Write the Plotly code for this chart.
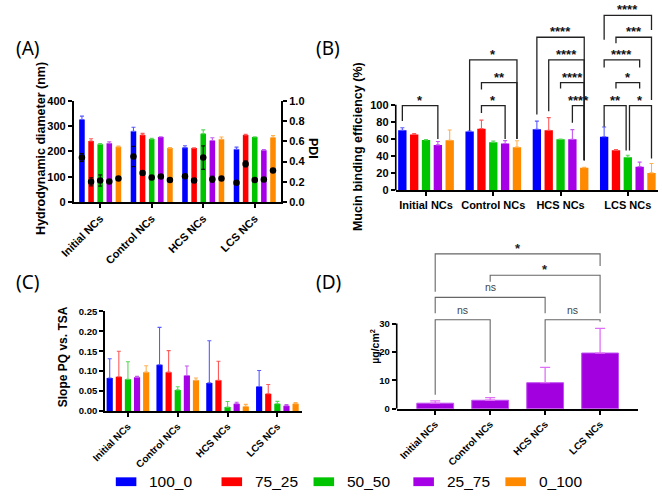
import plotly.graph_objects as go

W, H = 662, 497

groups = ["Initial NCs", "Control NCs", "HCS NCs", "LCS NCs"]
series = ["100_0", "75_25", "50_50", "25_75", "0_100"]
colors = ["#0000ff", "#ff0000", "#00c400", "#a500e6", "#ff8a00"]
err_colors = ["#5a5aff", "#ff5a5a", "#5ad85a", "#c45af0", "#ffb050"]

# (A) Hydrodynamic diameter (nm) and PDI
diam = {
    "100_0": [326, 279, 215, 208],
    "75_25": [241, 265, 213, 265],
    "50_50": [228, 249, 270, 257],
    "25_75": [232, 257, 243, 205],
    "0_100": [218, 213, 248, 255],
}
diam_err = {
    "100_0": [13, 16, 7, 9],
    "75_25": [9, 6, 1, 2],
    "50_50": [3, 3, 15, 1],
    "25_75": [6, 1, 11, 2],
    "0_100": [3, 2, 9, 7],
}
pdi = {
    "100_0": [0.44, 0.45, 0.255, 0.19],
    "75_25": [0.20, 0.287, 0.213, 0.377],
    "50_50": [0.213, 0.242, 0.439, 0.219],
    "25_75": [0.203, 0.252, 0.226, 0.223],
    "0_100": [0.232, 0.219, 0.232, 0.313],
}
pdi_err = {
    "100_0": [0.04, 0.10, 0.01, 0.005],
    "75_25": [0.04, 0.02, 0.02, 0.03],
    "50_50": [0.055, 0.02, 0.115, 0.015],
    "25_75": [0.005, 0.02, 0.03, 0.01],
    "0_100": [0.01, 0.01, 0.015, 0.01],
}

# (B) Mucin binding efficiency (%)
mucin = {
    "100_0": [70.3, 68.8, 71.5, 62.7],
    "75_25": [65.4, 72.2, 70.3, 47.1],
    "50_50": [59.0, 56.3, 59.7, 38.8],
    "25_75": [53.2, 54.8, 59.7, 27.8],
    "0_100": [58.6, 50.6, 26.6, 20.5],
}
mucin_err = {
    "100_0": [3, 0.5, 9.5, 11.4],
    "75_25": [1, 10, 14.8, 0.8],
    "50_50": [0.5, 1.5, 0.3, 2.3],
    "25_75": [4, 3.4, 11.4, 5.3],
    "0_100": [12, 7.5, 0.5, 11],
}
# group, bar i, bar j, bracket level, left leg end, right leg end, label
mucin_sig = [
    (0, 0, 3, 99.2, 81, 60, "*"),
    (1, 0, 4, 152.5, 69.6, 60, "*"),
    (1, 1, 4, 125.9, 117.9, 60, "**"),
    (1, 1, 3, 99.2, 90.5, 60, "*"),
    (2, 0, 4, 179, 88.6, 35.4, "****"),
    (2, 1, 4, 152.5, 92.4, 35.4, "****"),
    (2, 2, 4, 125.9, 119, 35.4, "****"),
    (2, 3, 4, 99.2, 79, 35.4, "****"),
    (3, 0, 4, 204.6, 176, 187.5, "****"),
    (3, 1, 4, 179, 172, 105.7, "***"),
    (3, 0, 3, 152.5, 143.7, 143.7, "****"),
    (3, 1, 3, 125.9, 119, 119, "*"),
    (3, 0, 2, 99.2, 74.5, 46.8, "**"),
    (3, 2, 4, 99.2, 46.8, 37.3, "*"),
]

# (C) Slope PQ vs. TSA
slope = {
    "100_0": [0.083, 0.116, 0.0705, 0.0615],
    "75_25": [0.086, 0.0975, 0.077, 0.0434],
    "50_50": [0.0795, 0.053, 0.0098, 0.018],
    "25_75": [0.0844, 0.089, 0.018, 0.013],
    "0_100": [0.0975, 0.077, 0.0115, 0.018],
}
slope_err = {
    "100_0": [0.048, 0.094, 0.106, 0.040],
    "75_25": [0.064, 0.054, 0.048, 0.023],
    "50_50": [0.044, 0.008, 0.014, 0.006],
    "25_75": [0.003, 0.024, 0.004, 0.003],
    "0_100": [0.016, 0.006, 0.005, 0.003],
}

# (D) deposited amount (ug/cm2)
deposit = [1.95, 2.98, 9.16, 19.6]
deposit_err = [0.8, 0.92, 5.4, 8.7]
deposit_sig = [
    (0, 1, 31.3, 4.9, 5.5, "ns"),
    (2, 3, 31.3, 16.4, 30.6, "ns"),
    (0, 2, 39.2, 33.6, 33.6, "ns"),
    (1, 3, 47.0, 44.7, 33.6, "*"),
    (0, 3, 54.5, 41.2, 50.2, "*"),
]

FONT = "Liberation Sans"


def px(x):
    return x / W


def py(y):
    return 1 - y / H


fig = go.Figure()


def add_group_bars(values, errs, xa, ya, step, width):
    for i, s in enumerate(series):
        xs = [g + (i - 2) * step for g in range(len(groups))]
        fig.add_trace(go.Bar(
            x=xs, y=values[s], width=width, xaxis=xa, yaxis=ya,
            marker=dict(color=colors[i], line=dict(width=0)),
            error_y=dict(type="data", symmetric=False, array=errs[s],
                         arrayminus=[0] * len(groups), color=err_colors[i],
                         thickness=1.1, width=2),
            showlegend=False, name=s,
        ))


STEP_A, STEP_B, STEP_C = 0.177, 0.176, 0.183
add_group_bars(diam, diam_err, "x", "y", STEP_A, 0.108)
for i, s in enumerate(series):
    xs = [g + (i - 2) * STEP_A for g in range(len(groups))]
    fig.add_trace(go.Scatter(
        x=xs, y=pdi[s], xaxis="x", yaxis="y5", mode="markers",
        marker=dict(color="black", size=6.5),
        error_y=dict(type="data", array=pdi_err[s], color="black",
                     thickness=1, width=2),
        showlegend=False, name=s + " PDI",
    ))
add_group_bars(mucin, mucin_err, "x2", "y2", STEP_B, 0.124)
add_group_bars(slope, slope_err, "x3", "y3", STEP_C, 0.124)
fig.add_trace(go.Bar(
    x=list(range(len(groups))), y=deposit, width=0.67, xaxis="x4", yaxis="y4",
    marker=dict(color="#a300e0", line=dict(color="#c050f0", width=1)),
    error_y=dict(type="data", symmetric=False, array=deposit_err,
                 arrayminus=[0] * 4, color="#e070f5", thickness=1.3, width=5),
    showlegend=False, name="deposit",
))

shapes = []
annotations = []

# B brackets
B_LEVEL_SHARED = {}
for b in mucin_sig:
    B_LEVEL_SHARED.setdefault((b[0], b[3]), []).append(b)
for (g, i, j, lev, yl, yr, lab) in mucin_sig:
    x1 = g + (i - 2) * STEP_B
    x2 = g + (j - 2) * STEP_B
    for other in B_LEVEL_SHARED[(g, lev)]:
        if other[1] == j and other[2] != j:
            x2 -= 0.025
        if other[2] == i and other[1] != i:
            x1 += 0.025
    shapes.append(dict(type="path", xref="x2", yref="y2",
                       path=f"M {x1},{yl} L {x1},{lev} L {x2},{lev} L {x2},{yr}",
                       line=dict(color="#222222", width=1.3)))
    annotations.append(dict(x=(x1 + x2) / 2, y=lev, xref="x2", yref="y2",
                            text=lab, showarrow=False, yanchor="bottom", yshift=-4,
                            font=dict(family=FONT, size=13, color="#111", weight="bold")))

# D brackets
for (i, j, lev, yl, yr, lab) in deposit_sig:
    shapes.append(dict(type="path", xref="x4", yref="y4",
                       path=f"M {i},{yl} L {i},{lev} L {j},{lev} L {j},{yr}",
                       line=dict(color="#666666", width=1.1)))
    if lab == "ns":
        annotations.append(dict(x=(i + j) / 2, y=lev, xref="x4", yref="y4",
                                text=lab, showarrow=False, yanchor="bottom", yshift=2,
                                font=dict(family=FONT, size=10.5, color="#444")))
    else:
        annotations.append(dict(x=(i + j) / 2, y=lev, xref="x4", yref="y4",
                                text=lab, showarrow=False, yanchor="bottom", yshift=-4,
                                font=dict(family=FONT, size=13, color="#222", weight="bold")))

# partial y axis lines for B and D
shapes.append(dict(type="line", xref="x2 domain", yref="y2", x0=0, x1=0, y0=0, y1=100,
                   line=dict(color="black", width=1.6)))
shapes.append(dict(type="line", xref="x4 domain", yref="y4", x0=0, x1=0, y0=0, y1=30,
                   line=dict(color="black", width=1.6)))


def title(text, x, y, size, angle=-90):
    annotations.append(dict(x=px(x), y=py(y), xref="paper", yref="paper", text=text,
                            textangle=angle, showarrow=False, xanchor="center",
                            yanchor="middle",
                            font=dict(family=FONT, size=size, color="black", weight="bold")))


title("Hydrodynamic diameter (nm)", 28, 146, 12.5)
title("PDI", 305, 146, 12.5, angle=90)
title("Mucin binding efficiency (%)", 351, 144, 12.5)
title("Slope PQ vs. TSA", 50, 359, 12)
title("µg/cm<sup>2</sup>", 368, 349, 10.5)

# panel letters
for lab, x, y in [("(A)", 0, 43), ("(B)", 306, 43), ("(C)", 0, 283), ("(D)", 306, 283)]:
    annotations.append(dict(x=px(x), y=py(y), xref="paper", yref="paper", text=lab,
                            showarrow=False, xanchor="left", yanchor="middle",
                            font=dict(family="Noto Sans", size=19, color="black")))

# legend
leg_x = [104, 212, 306, 408, 502]
for i, s in enumerate(series):
    shapes.append(dict(type="rect", xref="paper", yref="paper",
                       x0=px(leg_x[i]), x1=px(leg_x[i] + 21), y0=py(492), y1=py(483),
                       fillcolor=colors[i], line=dict(width=0)))
    annotations.append(dict(x=px(leg_x[i] + 32), y=py(487.5), xref="paper", yref="paper",
                            text=s, showarrow=False, xanchor="left", yanchor="middle",
                            font=dict(family=FONT, size=15.5, color="black")))

tick_bold = lambda sz: dict(family=FONT, size=sz, color="black", weight="bold")
axis_common = dict(showgrid=False, zeroline=False, ticks="outside", ticklen=4,
                   tickwidth=1.5, tickcolor="black", linecolor="black", linewidth=1.6)

fig.update_layout(
    width=W, height=H, margin=dict(l=0, r=0, t=0, b=0),
    paper_bgcolor="white", plot_bgcolor="rgba(0,0,0,0)",
    barmode="overlay", showlegend=False,
    xaxis=dict(domain=[px(61), px(273)], range=[-0.514, 3.514], anchor="y",
               tickvals=list(range(4)), ticktext=groups, tickangle=-45,
               showline=True, tickfont=tick_bold(11), **axis_common),
    yaxis=dict(domain=[py(201), py(97)], range=[0, 400], dtick=100, anchor="x",
               showline=True, tickfont=tick_bold(11), **axis_common),
    yaxis5=dict(overlaying="y", side="right", anchor="x", range=[0, 1], dtick=0.2,
                tickformat=".1f", showline=True, tickfont=tick_bold(11), **axis_common),
    xaxis2=dict(domain=[px(390), px(658)], range=[-0.45, 3.45], anchor="y2",
                tickvals=list(range(4)), ticktext=groups, tickangle=0,
                showline=True, tickfont=tick_bold(11), **axis_common),
    yaxis2=dict(domain=[py(189), 1.0], range=[0, 189 / 0.877], anchor="x2",
                tickvals=[0, 20, 40, 60, 80, 100], showline=False,
                tickfont=tick_bold(11), **axis_common),
    xaxis3=dict(domain=[px(93), px(294.5)], range=[-0.46, 3.5], anchor="y3",
                tickvals=list(range(4)), ticktext=groups, tickangle=-45,
                showline=True, tickfont=tick_bold(10), **axis_common),
    yaxis3=dict(domain=[py(415), py(313)], range=[0, 0.25], dtick=0.05,
                tickformat=".2f", anchor="x3", showline=True,
                tickfont=tick_bold(9.5), **axis_common),
    xaxis4=dict(domain=[px(391), px(637.5)], range=[-0.70, 3.69], anchor="y4",
                tickvals=list(range(4)), ticktext=groups, tickangle=-45,
                showline=True, tickfont=tick_bold(10), **axis_common),
    yaxis4=dict(domain=[py(412.7), py(245)], range=[0, 57.6], anchor="x4",
                tickvals=[0, 10, 20, 30], showline=False,
                tickfont=tick_bold(9.5), **axis_common),
    shapes=shapes, annotations=annotations,
)

fig.write_html("out.html", config={"displayModeBar": False},
               post_script="document.body.style.margin='0';")
